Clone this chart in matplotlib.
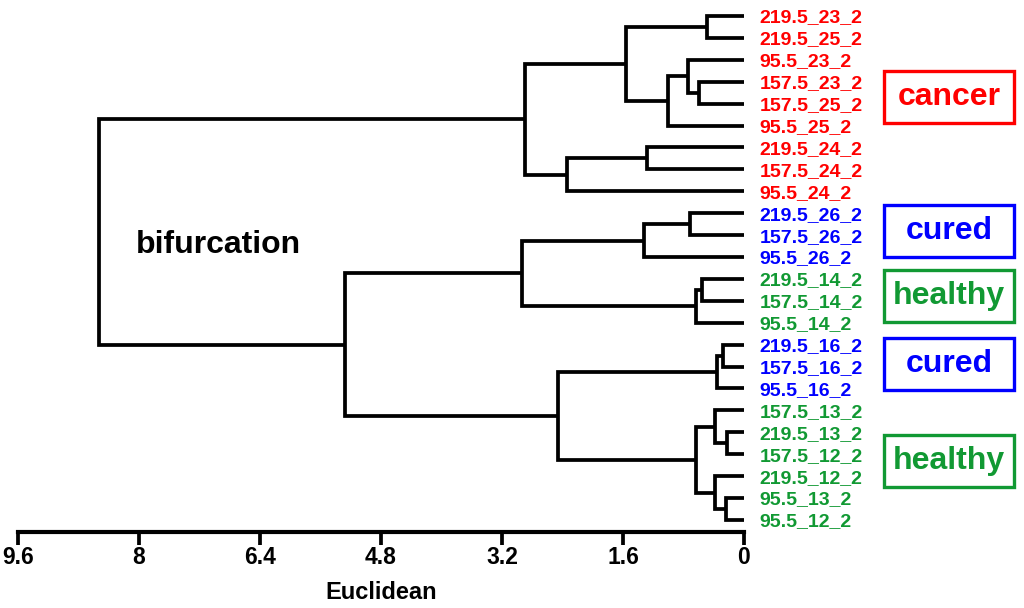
import numpy as np
import matplotlib.pyplot as plt
from matplotlib.patches import Rectangle

# leaves in top-to-bottom order
leaves = ['219.5_23_2', '219.5_25_2', '95.5_23_2', '157.5_23_2', '157.5_25_2',
          '95.5_25_2', '219.5_24_2', '157.5_24_2', '95.5_24_2',
          '219.5_26_2', '157.5_26_2', '95.5_26_2',
          '219.5_14_2', '157.5_14_2', '95.5_14_2',
          '219.5_16_2', '157.5_16_2', '95.5_16_2',
          '157.5_13_2', '219.5_13_2', '157.5_12_2',
          '219.5_12_2', '95.5_13_2', '95.5_12_2']
groups = ['cancer'] * 9 + ['cured'] * 3 + ['healthy'] * 3 + ['cured'] * 3 + ['healthy'] * 6

# merges: (child a, child b, height); new cluster ids start at len(leaves)
merges = [(0, 1, 0.49), (3, 4, 0.59), (2, 25, 0.74), (26, 5, 1.00),
          (24, 27, 1.56), (6, 7, 1.28), (29, 8, 2.34), (28, 30, 2.89),
          (9, 10, 0.71), (32, 11, 1.32), (12, 13, 0.55), (34, 14, 0.64),
          (33, 35, 2.94), (15, 16, 0.28), (37, 17, 0.36), (19, 20, 0.22),
          (18, 39, 0.38), (22, 23, 0.24), (21, 41, 0.38), (40, 42, 0.64),
          (38, 43, 2.46), (36, 44, 5.28), (31, 45, 8.53)]

box_labels = ['cancer', 'cured', 'healthy', 'cured', 'healthy']

colors = {'cancer': '#ff0000', 'cured': '#0000ff', 'healthy': '#119933'}

plt.rcParams['font.family'] = ['Liberation Sans', 'DejaVu Sans']
plt.rcParams['font.weight'] = 'bold'

fig = plt.figure(figsize=(10.24, 6.08), dpi=100)
ax = fig.add_axes([18 / 1024, 1 - 532 / 608, 726 / 1024, 527 / 608])

# positions of nodes
pos = {i: (0.0, float(i)) for i in range(len(leaves))}
for k, (a, b, h) in enumerate(merges):
    xa, ya = pos[a]
    xb, yb = pos[b]
    ax.plot([xa, h, h, xb], [ya, ya, yb, yb], color='black', lw=2.7,
            solid_joinstyle='miter', solid_capstyle='butt')
    pos[len(leaves) + k] = (h, (ya + yb) / 2)

ax.set_xlim(9.6, 0)
ax.set_ylim(23.55, -0.5)
ax.set_xticks(np.arange(0, 9.7, 1.6))
ax.set_xticklabels(['0', '1.6', '3.2', '4.8', '6.4', '8', '9.6'],
                   fontsize=16.5, fontweight='bold')
ax.tick_params(axis='x', length=9, width=2.7, pad=1)
ax.set_xlabel('Euclidean', fontsize=17, fontweight='bold', labelpad=9)

for s in ['top', 'right', 'left']:
    ax.spines[s].set_visible(False)
ax.spines['bottom'].set_linewidth(3)

ax.yaxis.tick_right()
ax.set_yticks(range(len(leaves)))
ax.set_yticklabels(leaves, fontsize=14, fontweight='bold')
ax.tick_params(axis='y', length=0, pad=11)
for lbl, g in zip(ax.get_yticklabels(), groups):
    lbl.set_color(colors[g])

ax.text(0.162, 0.545, 'bifurcation', transform=ax.transAxes, fontsize=23,
        fontweight='bold', ha='left', va='center')

# group boxes (pixel layout)
box_y = [71, 205, 270, 338, 435]
for lab, y0 in zip(box_labels, box_y):
    c = colors[lab]
    x0, w, h = 884, 130, 52
    fig.add_artist(Rectangle((x0 / 1024, 1 - (y0 + h) / 608), w / 1024, h / 608,
                             transform=fig.transFigure, fill=False, edgecolor=c, lw=2.4))
    fig.text((x0 + w / 2) / 1024, 1 - (y0 + h / 2) / 608, lab, color=c, fontsize=23,
             fontweight='bold', ha='center', va='center')

fig.savefig('out.png', dpi=100)
